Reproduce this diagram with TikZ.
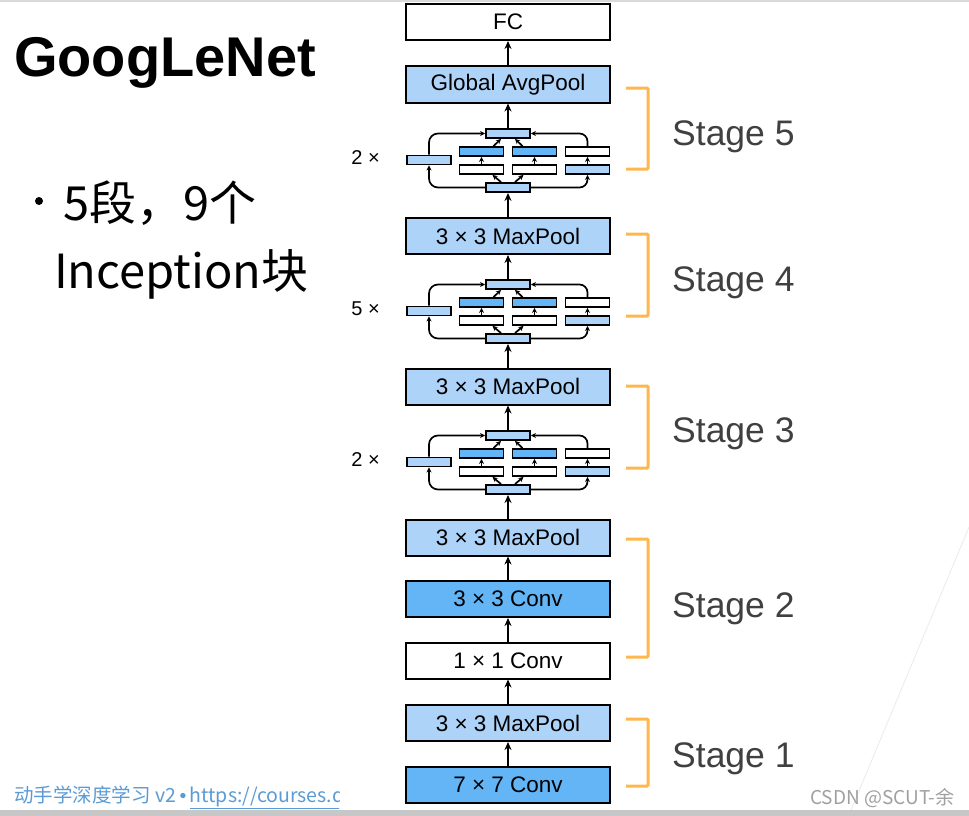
\documentclass[tikz,border=0pt]{standalone}
\usepackage{fontspec}
\setmainfont{Liberation Sans}
\newfontfamily\cjk{Noto Sans CJK SC}
\newfontfamily\latn{Liberation Sans}
\usetikzlibrary{arrows.meta}
\definecolor{lb}{HTML}{AED3F8}
\definecolor{mb}{HTML}{63B5F6}
\definecolor{orng}{HTML}{FFB74D}
\definecolor{stg}{HTML}{404040}
\definecolor{foot}{HTML}{5B9BD5}
\definecolor{wm}{HTML}{A0A0A0}
\newcommand{\incep}[2]{%
\begin{scope}[shift={(0,#2)}]
 \node[sm,fill=lb] (#1top) at (508,5.5) {};
 \node[sm,fill=lb] (#1bot) at (508,59.5) {};
 \node[sm,fill=lb] (#1left) at (429,32) {};
 \node[sm,fill=mb] (#1ra) at (481.5,23.5) {};
 \node[sm,fill=mb] (#1rb) at (534.5,23.5) {};
 \node[sm,fill=white] (#1rc) at (587.5,23.5) {};
 \node[sm,fill=white] (#1sa) at (481.5,41.5) {};
 \node[sm,fill=white] (#1sb) at (534.5,41.5) {};
 \node[sm,fill=lb] (#1sc) at (587.5,41.5) {};
 \draw[inarrow,rounded corners=9pt] (#1bot.west) -| (#1left.south);
 \draw[inarrow,rounded corners=9pt] (#1left.north) |- (#1top.west);
 \draw[inarrow,rounded corners=8pt] (#1bot.east) -| (#1sc.south);
 \draw[inarrow,rounded corners=8pt] (#1rc.north) |- (#1top.east);
 \draw[inarrow] ([xshift=-7pt]#1bot.north) -- ([xshift=11pt]#1sa.south);
 \draw[inarrow] ([xshift=7pt]#1bot.north) -- ([xshift=-11pt]#1sb.south);
 \draw[inarrow] (#1sa.north) -- (#1ra.south);
 \draw[inarrow] (#1sb.north) -- (#1rb.south);
 \draw[inarrow] (#1sc.north) -- (#1rc.south);
 \draw[inarrow] ([xshift=12pt]#1ra.north) -- ([xshift=-7pt]#1top.south);
 \draw[inarrow] ([xshift=-12pt]#1rb.north) -- ([xshift=7pt]#1top.south);
\end{scope}}
\begin{document}
\begin{tikzpicture}[x=1pt,y=-1pt,
 bigbox/.style={draw=black, line width=2pt, minimum width=204pt, minimum height=36pt, inner sep=0pt, font=\fontsize{22.5}{22.5}\selectfont},
 sm/.style={draw=black, line width=1.9pt, minimum width=44pt, minimum height=9pt, inner sep=0pt},
 mainarrow/.style={line width=1.8pt, -{Stealth[length=8pt,width=7pt]}},
 inarrow/.style={line width=1.7pt, -{Stealth[length=5pt,width=5pt]}},
 bracket/.style={draw=orng, line width=3pt, rounded corners=1pt},
 stagelbl/.style={anchor=base west, inner sep=0pt, text=stg, font=\fontsize{35.5}{36}\selectfont},
 mult/.style={anchor=east, inner sep=0pt, font=\fontsize{20}{20}\selectfont}
]
\useasboundingbox (0,0) rectangle (969,816);
\fill[white] (0,0) rectangle (969,816);
\fill[black!15] (0,0) rectangle (969,2);
\fill[black!22] (0,810) rectangle (969,816);
\draw[black!8, line width=0.8pt] (969,527) -- (851,810);

% main column
\node[bigbox,fill=white] (fc) at (508,22) {FC};
\node[bigbox,fill=lb] (gap) at (508,84.5) {Global AvgPool};
\node[bigbox,fill=lb] (pool4) at (508,236) {3 × 3 MaxPool};
\node[bigbox,fill=lb] (pool3) at (508,386.5) {3 × 3 MaxPool};
\node[bigbox,fill=lb] (pool2) at (508,537.5) {3 × 3 MaxPool};
\node[bigbox,fill=mb] (conv3) at (508,599) {3 × 3 Conv};
\node[bigbox,fill=white] (conv1) at (508,660.5) {1 × 1 Conv};
\node[bigbox,fill=lb] (pool1) at (508,723) {3 × 3 MaxPool};
\node[bigbox,fill=mb] (conv7) at (508,785) {7 × 7 Conv};

\incep{ia}{128}
\incep{ib}{279}
\incep{ic}{430}

\draw[mainarrow] (conv7.north) -- (pool1.south);
\draw[mainarrow] (pool1.north) -- (conv1.south);
\draw[mainarrow] (conv1.north) -- (conv3.south);
\draw[mainarrow] (conv3.north) -- (pool2.south);
\draw[mainarrow] (pool2.north) -- (icbot.south);
\draw[mainarrow] (ictop.north) -- (pool3.south);
\draw[mainarrow] (pool3.north) -- (ibbot.south);
\draw[mainarrow] (ibtop.north) -- (pool4.south);
\draw[mainarrow] (pool4.north) -- (iabot.south);
\draw[mainarrow] (iatop.north) -- (gap.south);
\draw[mainarrow] (gap.north) -- (fc.south);

\node[mult] (ma) at (380,158) {2 ×};
\node[mult] (mb) at (380,309) {5 ×};
\node[mult] (mc) at (380,460) {2 ×};

% brackets
\draw[bracket] (626,88) -- (648,88) -- (648,169) -- (626,169);
\draw[bracket] (626,234) -- (648,234) -- (648,316) -- (626,316);
\draw[bracket] (626,386) -- (648,386) -- (648,468) -- (626,468);
\draw[bracket] (626,539) -- (648,539) -- (648,657) -- (626,657);
\draw[bracket] (626,719) -- (648,719) -- (648,786) -- (626,786);
\node[stagelbl] (s5) at (672,145) {Stage 5};
\node[stagelbl] (s4) at (672,291) {Stage 4};
\node[stagelbl] (s3) at (672,442) {Stage 3};
\node[stagelbl] (s2) at (672,617) {Stage 2};
\node[stagelbl] (s1) at (672,767) {Stage 1};

% left text
\node[anchor=base west, inner sep=0pt, font=\bfseries\fontsize{56}{56}\selectfont] (title) at (14,77) {GoogLeNet};
\fill (39,201) circle (4);
\node[anchor=base west, inner sep=0pt, font=\cjk\fontsize{47}{47}\selectfont] (b1) at (63,220) {5段，9个};
\node[anchor=base west, inner sep=0pt, font=\cjk\fontsize{47}{47}\selectfont] (b2) at (54,288) {Inception块};

% footer
\begin{scope}
\clip (0,770) rectangle (339,810);
\node[anchor=base west, inner sep=0pt, text=foot, font=\cjk\fontsize{19.5}{20}\selectfont] (ft) at (14,802) {动手学深度学习 v2\hspace{3.5pt}{\latn •}\hspace{3.5pt}\underline{https://courses.d2l.ai/zh-v2}};
\end{scope}
\node[anchor=base west, inner sep=0pt, text=wm, font=\cjk\fontsize{19}{19}\selectfont] (wmk) at (810,804) {CSDN @SCUT-余};
\end{tikzpicture}
\end{document}
